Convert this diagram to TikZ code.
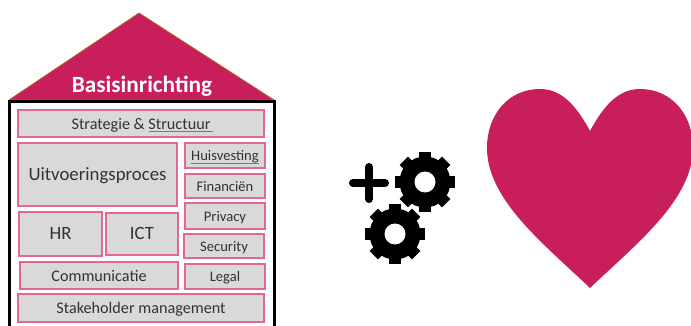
\documentclass[tikz,border=0pt]{standalone}
\usepackage{fontspec}
\setmainfont{Carlito}
\usepackage{tikz}
\usetikzlibrary{positioning}
\definecolor{roofred}{HTML}{C81E5C}
\definecolor{boxpink}{HTML}{E2688F}
\definecolor{boxgray}{HTML}{D9D9D9}
\definecolor{textgray}{HTML}{333333}
\tikzstyle{block} = [rectangle, draw=boxpink, fill=boxgray, line width=1.3pt,
text=textgray, inner sep=0pt, text height=12.7pt, text depth=1.2pt, font=\fontsize{16.2}{18}\selectfont]
\tikzstyle{smallblock} = [block, minimum width=80pt, text height=11.6pt, text depth=0.9pt, font=\fontsize{14.6}{16}\selectfont]
\tikzstyle{bigblock} = [block, text height=13.9pt, text depth=2.3pt, font=\fontsize{18.8}{20}\selectfont]
\tikzstyle{wavy} = [draw=roofred!80, line width=0.8pt]

\begin{document}
\begin{tikzpicture}[x=1pt, y=-1pt,
gear/.pic={
	\fill[black] (0,0) circle (25.5);
	\foreach \a in {0,45,...,315} {
		\draw[black, line width=12pt, line join=round] (\a:20) -- (\a:30);
	}
	\fill[white] (0,0) circle (10.5);
}
]
\useasboundingbox (0,0) rectangle (691,326);
% Roof and walls
\draw[fill=roofred, draw=roofred!60!yellow!80!black, line width=0.8pt, line join=round] (139,13) -- (274,100) -- (9,100) -- cycle;
\draw[black, line width=3pt] (9.5,340) -- (9.5,101.5) -- (274.5,101.5) -- (274.5,340);
\node [text=white, font=\fontsize{23.3}{25}\selectfont\bfseries] (title) at (142,86) {Basisinrichting};
% Place nodes
\node [block, minimum width=246pt, minimum height=27pt] (strategie) at (141,123.5) {Strategie \& Structuur};
\node [bigblock, minimum width=159pt, minimum height=63pt] (uitvoering) at (97.5,174.5) {Uitvoeringsproces};
\node [smallblock, minimum height=25pt] (huisvesting) at (225,155.5) {Huisvesting};
\node [smallblock, minimum height=24pt] (financien) at (225,186) {Financiën};
\node [smallblock, minimum height=26pt] (privacy) at (225,216) {Privacy};
\node [smallblock, minimum height=24pt] (security) at (224,246) {Security};
\node [smallblock, minimum height=25pt] (legal) at (225,276.5) {Legal};
\node [bigblock, minimum width=83pt, minimum height=44pt] (hr) at (60.5,234) {HR};
\node [bigblock, minimum width=72pt, minimum height=42pt] (ict) at (142,234) {ICT};
\node [block, minimum width=158pt, minimum height=27pt] (communicatie) at (99,275.5) {Communicatie};
\node [block, minimum width=246pt, minimum height=28pt] (stakeholder) at (141,308) {Stakeholder management};
% Spelling marks
\draw [wavy] (149,131.5) -- (213,131.5);
\draw [wavy] (191,163.5) -- (259,163.5);
% Plus and gears
\draw[black, line width=8pt, line cap=round] (353,183) -- (385,183);
\draw[black, line width=8pt, line cap=round] (369,167) -- (369,199);
\pic at (425,182) {gear};
\pic at (395,234) {gear};
% Heart
\fill[roofred] (590,131) .. controls (575,103) and (560,89) .. (540,89) .. controls (508,89) and (487,115) .. (487,148)
.. controls (487,200) and (545,245) .. (590,288) .. controls (635,245) and (693,200) .. (693,148)
.. controls (693,115) and (672,89) .. (640,89) .. controls (620,89) and (605,103) .. (590,131) -- cycle;
\end{tikzpicture}
\end{document}
